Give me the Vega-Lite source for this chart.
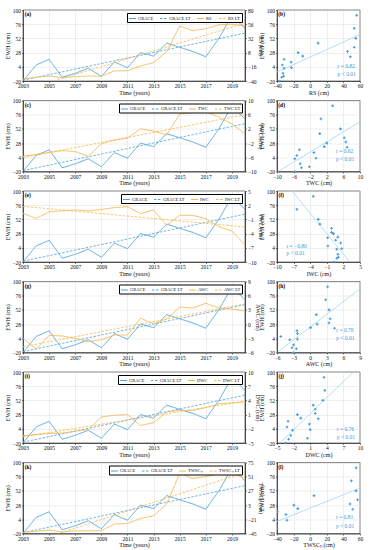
{
"$schema": "https://vega.github.io/schema/vega-lite/v6.json",
"padding": {"left": 4, "top": 7, "right": 2, "bottom": 2},
"background": "white",
"data": {"values": [
{"year":2003,"ewh":-20,"rs":-36.6,"twc":-5.7,"iwc":0.3,"awc":-3.0,"dwc":-3.5,"twsc":-43.3},
{"year":2004,"ewh":7,"rs":-33.7,"twc":-5.2,"iwc":-0.8,"awc":-5.3,"dwc":-3.2,"twsc":-41},
{"year":2005,"ewh":16.7,"rs":-31.5,"twc":-4.6,"iwc":0.6,"awc":-2.4,"dwc":-3.0,"twsc":-39.4},
{"year":2006,"ewh":-13.7,"rs":-34.4,"twc":-4.1,"iwc":0.8,"awc":-2.5,"dwc":-2.9,"twsc":-42.2},
{"year":2007,"ewh":-7,"rs":-32.7,"twc":-4.4,"iwc":1.0,"awc":-3.0,"dwc":-2.5,"twsc":-40.5},
{"year":2008,"ewh":1.5,"rs":-31.5,"twc":-5.7,"iwc":0.8,"awc":-3.7,"dwc":-2.2,"twsc":-40.5},
{"year":2009,"ewh":-12,"rs":-32,"twc":-2.2,"iwc":1.1,"awc":-3.3,"dwc":0.5,"twsc":-40},
{"year":2010,"ewh":12,"rs":-23,"twc":-1.1,"iwc":1.5,"awc":-2.3,"dwc":0.85,"twsc":-29.2},
{"year":2011,"ewh":2.5,"rs":-22.6,"twc":-0.6,"iwc":1.7,"awc":-2.3,"dwc":1.0,"twsc":-28},
{"year":2012,"ewh":28,"rs":-14.6,"twc":2.0,"iwc":0.2,"awc":1.25,"dwc":-1.3,"twsc":-19.6},
{"year":2013,"ewh":22,"rs":-9,"twc":1.4,"iwc":1.0,"awc":0.06,"dwc":-0.7,"twsc":-15},
{"year":2014,"ewh":44,"rs":9.5,"twc":0.3,"iwc":-2.25,"awc":1.1,"dwc":1.55,"twsc":4.6},
{"year":2015,"ewh":37,"rs":53,"twc":6.2,"iwc":-0.14,"awc":3.6,"dwc":1.9,"twsc":57},
{"year":2016,"ewh":30,"rs":45,"twc":6.6,"iwc":-0.14,"awc":3.4,"dwc":1.9,"twsc":48},
{"year":2017,"ewh":21,"rs":48.4,"twc":6.9,"iwc":-0.85,"awc":4.4,"dwc":2.46,"twsc":51.3},
{"year":2018,"ewh":52,"rs":55,"twc":5.3,"iwc":-2.54,"awc":3.4,"dwc":3.3,"twsc":55.3},
{"year":2019,"ewh":91,"rs":56,"twc":3.4,"iwc":-3.45,"awc":3.15,"dwc":3.5,"twsc":55.3},
{"year":2020,"ewh":69,"rs":53,"twc":0.6,"iwc":-6.4,"awc":2.8,"dwc":3.65,"twsc":49.6}
]},
"spacing": 1.5,
"resolve": {"scale": {"color": "independent", "strokeDash": "independent"}},
"vconcat": [
{"bounds": "flush", "spacing": 32, "resolve": {"scale": {"color": "independent", "strokeDash": "independent"}},
 "hconcat": [
 {"width": 222, "height": 71, "resolve": {"scale": {"y": "independent"}},
  "layer": [
   {"layer": [
     {"mark": {"type": "line", "strokeWidth": 0.9, "clip": true},
      "encoding": {
       "x": {"field": "year", "type": "quantitative", "scale": {"domain": [2003, 2020], "nice": false, "zero": false}, "axis": {"values": [2003,2005,2007,2009,2011,2013,2015,2017,2019], "tickCount": 30, "format": "d", "title": "Time (years)", "grid": true, "labelOverlap": false}},
       "y": {"field": "ewh", "type": "quantitative", "scale": {"domain": [-20, 100], "nice": false, "zero": false}, "axis": {"values": [-20,4,28,52,76,100], "tickCount": 30, "format": "d", "title": "EWH (cm)", "grid": true, "labelOverlap": false}},
       "color": {"datum": "GRACE", "scale": {"domain": ["GRACE","GRACE LT","RS","RS LT"], "range": ["#4aa3df","#4aa3df","#f5b74e","#f5b74e"]}, "legend": {"title": null}},
       "strokeDash": {"datum": "GRACE", "scale": {"domain": ["GRACE","GRACE LT","RS","RS LT"], "range": [[1,0],[2.5,1.5],[1,0],[2.5,1.5]]}, "legend": {"title": null}}
      }},
     {"transform": [{"regression": "ewh", "on": "year"}], "mark": {"type": "line", "strokeWidth": 0.8, "clip": true},
      "encoding": {"x": {"field": "year", "type": "quantitative"}, "y": {"field": "ewh", "type": "quantitative"}, "color": {"datum": "GRACE LT"}, "strokeDash": {"datum": "GRACE LT"}}},
     {"data": {"values": [{}]}, "mark": {"type": "text", "text": "(a)", "align": "left", "baseline": "top", "fontWeight": "bold", "fontSize": 5.5},
      "encoding": {"x": {"datum": 2003.13}, "y": {"datum": 96}}}
   ]},
   {"layer": [
     {"mark": {"type": "line", "strokeWidth": 0.9, "clip": true},
      "encoding": {"x": {"field": "year", "type": "quantitative"}, "y": {"field": "rs", "type": "quantitative", "scale": {"domain": [-40, 80], "nice": false, "zero": false}, "axis": {"orient": "right", "values": [-40,-16,8,32,56,80], "tickCount": 30, "format": "d", "title": "RS (cm)", "grid": false, "labelOverlap": false}}, "color": {"datum": "RS"}, "strokeDash": {"datum": "RS"}}},
     {"transform": [{"regression": "rs", "on": "year"}], "mark": {"type": "line", "strokeWidth": 0.8, "clip": true},
      "encoding": {"x": {"field": "year", "type": "quantitative"}, "y": {"field": "rs", "type": "quantitative"}, "color": {"datum": "RS LT"}, "strokeDash": {"datum": "RS LT"}}}
   ]}
  ]},
 {"width": 83, "height": 71,
  "layer": [
   {"transform": [{"regression": "ewh", "on": "rs", "extent": [-40, 60]}], "mark": {"type": "line", "color": "#a5d6f0", "strokeWidth": 0.8, "clip": true},
    "encoding": {"x": {"field": "rs", "type": "quantitative", "scale": {"domain": [-40, 60], "nice": false, "zero": false}, "axis": {"values": [-40,-20,0,20,40,60], "tickCount": 30, "format": "d", "title": "RS (cm)", "labelOverlap": false}}, "y": {"field": "ewh", "type": "quantitative", "scale": {"domain": [-20, 100], "nice": false, "zero": false}, "axis": {"values": [-20,4,28,52,76,100], "tickCount": 30, "format": "d", "title": "EWH (cm)", "labelOverlap": false}}}},
   {"mark": {"type": "point", "shape": "cross", "filled": true, "size": 7, "color": "#3d9be0", "opacity": 1},
    "encoding": {"x": {"field": "rs", "type": "quantitative"}, "y": {"field": "ewh", "type": "quantitative"}}},
   {"data": {"values": [{}]}, "mark": {"type": "text", "text": "(b)", "align": "left", "baseline": "top", "fontWeight": "bold", "fontSize": 5.5}, "encoding": {"x": {"datum": -38.5}, "y": {"datum": 96}}},
   {"data": {"values": [{}]}, "mark": {"type": "text", "text": "r = 0.82", "align": "left", "baseline": "middle", "fontSize": 5.5, "color": "#3d9be0"}, "encoding": {"x": {"datum": 33}, "y": {"datum": 5}}},
   {"data": {"values": [{}]}, "mark": {"type": "text", "text": "p < 0.01", "align": "left", "baseline": "middle", "fontSize": 5.5, "color": "#3d9be0"}, "encoding": {"x": {"datum": 33}, "y": {"datum": -8}}}
  ]}
 ]},
{"bounds": "flush", "spacing": 32, "resolve": {"scale": {"color": "independent", "strokeDash": "independent"}},
 "hconcat": [
 {"width": 222, "height": 71, "resolve": {"scale": {"y": "independent"}},
  "layer": [
   {"layer": [
     {"mark": {"type": "line", "strokeWidth": 0.9, "clip": true},
      "encoding": {
       "x": {"field": "year", "type": "quantitative", "scale": {"domain": [2003, 2020], "nice": false, "zero": false}, "axis": {"values": [2003,2005,2007,2009,2011,2013,2015,2017,2019], "tickCount": 30, "format": "d", "title": "Time (years)", "grid": true, "labelOverlap": false}},
       "y": {"field": "ewh", "type": "quantitative", "scale": {"domain": [-20, 100], "nice": false, "zero": false}, "axis": {"values": [-20,4,28,52,76,100], "tickCount": 30, "format": "d", "title": "EWH (cm)", "grid": true, "labelOverlap": false}},
       "color": {"datum": "GRACE", "scale": {"domain": ["GRACE","GRACE LT","TWC","TWC LT"], "range": ["#4aa3df","#4aa3df","#f5b74e","#f5b74e"]}, "legend": {"title": null}},
       "strokeDash": {"datum": "GRACE", "scale": {"domain": ["GRACE","GRACE LT","TWC","TWC LT"], "range": [[1,0],[2.5,1.5],[1,0],[2.5,1.5]]}, "legend": {"title": null}}
      }},
     {"transform": [{"regression": "ewh", "on": "year"}], "mark": {"type": "line", "strokeWidth": 0.8, "clip": true},
      "encoding": {"x": {"field": "year", "type": "quantitative"}, "y": {"field": "ewh", "type": "quantitative"}, "color": {"datum": "GRACE LT"}, "strokeDash": {"datum": "GRACE LT"}}},
     {"data": {"values": [{}]}, "mark": {"type": "text", "text": "(c)", "align": "left", "baseline": "top", "fontWeight": "bold", "fontSize": 5.5},
      "encoding": {"x": {"datum": 2003.13}, "y": {"datum": 96}}}
   ]},
   {"layer": [
     {"mark": {"type": "line", "strokeWidth": 0.9, "clip": true},
      "encoding": {"x": {"field": "year", "type": "quantitative"}, "y": {"field": "twc", "type": "quantitative", "scale": {"domain": [-10, 10], "nice": false, "zero": false}, "axis": {"orient": "right", "values": [-10,-6,-2,2,6,10], "tickCount": 30, "format": "d", "title": "TWC (cm)", "grid": false, "labelOverlap": false}}, "color": {"datum": "TWC"}, "strokeDash": {"datum": "TWC"}}},
     {"transform": [{"regression": "twc", "on": "year"}], "mark": {"type": "line", "strokeWidth": 0.8, "clip": true},
      "encoding": {"x": {"field": "year", "type": "quantitative"}, "y": {"field": "twc", "type": "quantitative"}, "color": {"datum": "TWC LT"}, "strokeDash": {"datum": "TWC LT"}}}
   ]}
  ]},
 {"width": 83, "height": 71,
  "layer": [
   {"transform": [{"regression": "ewh", "on": "twc", "extent": [-10, 10]}], "mark": {"type": "line", "color": "#a5d6f0", "strokeWidth": 0.8, "clip": true},
    "encoding": {"x": {"field": "twc", "type": "quantitative", "scale": {"domain": [-10, 10], "nice": false, "zero": false}, "axis": {"values": [-10,-6,-2,2,6,10], "tickCount": 30, "format": "d", "title": "TWC (cm)", "labelOverlap": false}}, "y": {"field": "ewh", "type": "quantitative", "scale": {"domain": [-20, 100], "nice": false, "zero": false}, "axis": {"values": [-20,4,28,52,76,100], "tickCount": 30, "format": "d", "title": "EWH (cm)", "labelOverlap": false}}}},
   {"mark": {"type": "point", "shape": "cross", "filled": true, "size": 7, "color": "#3d9be0", "opacity": 1},
    "encoding": {"x": {"field": "twc", "type": "quantitative"}, "y": {"field": "ewh", "type": "quantitative"}}},
   {"data": {"values": [{}]}, "mark": {"type": "text", "text": "(d)", "align": "left", "baseline": "top", "fontWeight": "bold", "fontSize": 5.5}, "encoding": {"x": {"datum": -9.7}, "y": {"datum": 96}}},
   {"data": {"values": [{}]}, "mark": {"type": "text", "text": "r = 0.62", "align": "left", "baseline": "middle", "fontSize": 5.5, "color": "#3d9be0"}, "encoding": {"x": {"datum": 4.2}, "y": {"datum": 15}}},
   {"data": {"values": [{}]}, "mark": {"type": "text", "text": "p < 0.01", "align": "left", "baseline": "middle", "fontSize": 5.5, "color": "#3d9be0"}, "encoding": {"x": {"datum": 4.2}, "y": {"datum": 1}}}
  ]}
 ]},
{"bounds": "flush", "spacing": 32, "resolve": {"scale": {"color": "independent", "strokeDash": "independent"}},
 "hconcat": [
 {"width": 222, "height": 71, "resolve": {"scale": {"y": "independent"}},
  "layer": [
   {"layer": [
     {"mark": {"type": "line", "strokeWidth": 0.9, "clip": true},
      "encoding": {
       "x": {"field": "year", "type": "quantitative", "scale": {"domain": [2003, 2020], "nice": false, "zero": false}, "axis": {"values": [2003,2005,2007,2009,2011,2013,2015,2017,2019], "tickCount": 30, "format": "d", "title": "Time (years)", "grid": true, "labelOverlap": false}},
       "y": {"field": "ewh", "type": "quantitative", "scale": {"domain": [-20, 100], "nice": false, "zero": false}, "axis": {"values": [-20,4,28,52,76,100], "tickCount": 30, "format": "d", "title": "EWH (cm)", "grid": true, "labelOverlap": false}},
       "color": {"datum": "GRACE", "scale": {"domain": ["GRACE","GRACE LT","IWC","IWC LT"], "range": ["#4aa3df","#4aa3df","#f5b74e","#f5b74e"]}, "legend": {"title": null}},
       "strokeDash": {"datum": "GRACE", "scale": {"domain": ["GRACE","GRACE LT","IWC","IWC LT"], "range": [[1,0],[2.5,1.5],[1,0],[2.5,1.5]]}, "legend": {"title": null}}
      }},
     {"transform": [{"regression": "ewh", "on": "year"}], "mark": {"type": "line", "strokeWidth": 0.8, "clip": true},
      "encoding": {"x": {"field": "year", "type": "quantitative"}, "y": {"field": "ewh", "type": "quantitative"}, "color": {"datum": "GRACE LT"}, "strokeDash": {"datum": "GRACE LT"}}},
     {"data": {"values": [{}]}, "mark": {"type": "text", "text": "(e)", "align": "left", "baseline": "top", "fontWeight": "bold", "fontSize": 5.5},
      "encoding": {"x": {"datum": 2003.13}, "y": {"datum": 96}}}
   ]},
   {"layer": [
     {"mark": {"type": "line", "strokeWidth": 0.9, "clip": true},
      "encoding": {"x": {"field": "year", "type": "quantitative"}, "y": {"field": "iwc", "type": "quantitative", "scale": {"domain": [-10, 5], "nice": false, "zero": false}, "axis": {"orient": "right", "values": [-10,-7,-4,-1,2,5], "tickCount": 30, "format": "d", "title": "IWC (cm)", "grid": false, "labelOverlap": false}}, "color": {"datum": "IWC"}, "strokeDash": {"datum": "IWC"}}},
     {"transform": [{"regression": "iwc", "on": "year"}], "mark": {"type": "line", "strokeWidth": 0.8, "clip": true},
      "encoding": {"x": {"field": "year", "type": "quantitative"}, "y": {"field": "iwc", "type": "quantitative"}, "color": {"datum": "IWC LT"}, "strokeDash": {"datum": "IWC LT"}}}
   ]}
  ]},
 {"width": 83, "height": 71,
  "layer": [
   {"transform": [{"regression": "ewh", "on": "iwc", "extent": [-10, 5]}], "mark": {"type": "line", "color": "#a5d6f0", "strokeWidth": 0.8, "clip": true},
    "encoding": {"x": {"field": "iwc", "type": "quantitative", "scale": {"domain": [-10, 5], "nice": false, "zero": false}, "axis": {"values": [-10,-7,-4,-1,2,5], "tickCount": 30, "format": "d", "title": "IWC (cm)", "labelOverlap": false}}, "y": {"field": "ewh", "type": "quantitative", "scale": {"domain": [-20, 100], "nice": false, "zero": false}, "axis": {"values": [-20,4,28,52,76,100], "tickCount": 30, "format": "d", "title": "EWH (cm)", "labelOverlap": false}}}},
   {"mark": {"type": "point", "shape": "cross", "filled": true, "size": 7, "color": "#3d9be0", "opacity": 1},
    "encoding": {"x": {"field": "iwc", "type": "quantitative"}, "y": {"field": "ewh", "type": "quantitative"}}},
   {"data": {"values": [{}]}, "mark": {"type": "text", "text": "(f)", "align": "left", "baseline": "top", "fontWeight": "bold", "fontSize": 5.5}, "encoding": {"x": {"datum": -9.75}, "y": {"datum": 96}}},
   {"data": {"values": [{}]}, "mark": {"type": "text", "text": "r = −0.80", "align": "left", "baseline": "middle", "fontSize": 5.5, "color": "#3d9be0"}, "encoding": {"x": {"datum": -8.3}, "y": {"datum": 7}}},
   {"data": {"values": [{}]}, "mark": {"type": "text", "text": "p < 0.01", "align": "left", "baseline": "middle", "fontSize": 5.5, "color": "#3d9be0"}, "encoding": {"x": {"datum": -8.3}, "y": {"datum": -5}}}
  ]}
 ]},
{"bounds": "flush", "spacing": 32, "resolve": {"scale": {"color": "independent", "strokeDash": "independent"}},
 "hconcat": [
 {"width": 222, "height": 71, "resolve": {"scale": {"y": "independent"}},
  "layer": [
   {"layer": [
     {"mark": {"type": "line", "strokeWidth": 0.9, "clip": true},
      "encoding": {
       "x": {"field": "year", "type": "quantitative", "scale": {"domain": [2003, 2020], "nice": false, "zero": false}, "axis": {"values": [2003,2005,2007,2009,2011,2013,2015,2017,2019], "tickCount": 30, "format": "d", "title": "Time (years)", "grid": true, "labelOverlap": false}},
       "y": {"field": "ewh", "type": "quantitative", "scale": {"domain": [-20, 100], "nice": false, "zero": false}, "axis": {"values": [-20,4,28,52,76,100], "tickCount": 30, "format": "d", "title": "EWH (cm)", "grid": true, "labelOverlap": false}},
       "color": {"datum": "GRACE", "scale": {"domain": ["GRACE","GRACE LT","AWC","AWC LT"], "range": ["#4aa3df","#4aa3df","#f5b74e","#f5b74e"]}, "legend": {"title": null}},
       "strokeDash": {"datum": "GRACE", "scale": {"domain": ["GRACE","GRACE LT","AWC","AWC LT"], "range": [[1,0],[2.5,1.5],[1,0],[2.5,1.5]]}, "legend": {"title": null}}
      }},
     {"transform": [{"regression": "ewh", "on": "year"}], "mark": {"type": "line", "strokeWidth": 0.8, "clip": true},
      "encoding": {"x": {"field": "year", "type": "quantitative"}, "y": {"field": "ewh", "type": "quantitative"}, "color": {"datum": "GRACE LT"}, "strokeDash": {"datum": "GRACE LT"}}},
     {"data": {"values": [{}]}, "mark": {"type": "text", "text": "(g)", "align": "left", "baseline": "top", "fontWeight": "bold", "fontSize": 5.5},
      "encoding": {"x": {"datum": 2003.13}, "y": {"datum": 96}}}
   ]},
   {"layer": [
     {"mark": {"type": "line", "strokeWidth": 0.9, "clip": true},
      "encoding": {"x": {"field": "year", "type": "quantitative"}, "y": {"field": "awc", "type": "quantitative", "scale": {"domain": [-6, 9], "nice": false, "zero": false}, "axis": {"orient": "right", "values": [-6,-3,0,3,6,9], "tickCount": 30, "format": "d", "title": "AWC (cm)", "grid": false, "labelOverlap": false}}, "color": {"datum": "AWC"}, "strokeDash": {"datum": "AWC"}}},
     {"transform": [{"regression": "awc", "on": "year"}], "mark": {"type": "line", "strokeWidth": 0.8, "clip": true},
      "encoding": {"x": {"field": "year", "type": "quantitative"}, "y": {"field": "awc", "type": "quantitative"}, "color": {"datum": "AWC LT"}, "strokeDash": {"datum": "AWC LT"}}}
   ]}
  ]},
 {"width": 83, "height": 71,
  "layer": [
   {"transform": [{"regression": "ewh", "on": "awc", "extent": [-6, 9]}], "mark": {"type": "line", "color": "#a5d6f0", "strokeWidth": 0.8, "clip": true},
    "encoding": {"x": {"field": "awc", "type": "quantitative", "scale": {"domain": [-6, 9], "nice": false, "zero": false}, "axis": {"values": [-6,-3,0,3,6,9], "tickCount": 30, "format": "d", "title": "AWC (cm)", "labelOverlap": false}}, "y": {"field": "ewh", "type": "quantitative", "scale": {"domain": [-20, 100], "nice": false, "zero": false}, "axis": {"values": [-20,4,28,52,76,100], "tickCount": 30, "format": "d", "title": "EWH (cm)", "labelOverlap": false}}}},
   {"mark": {"type": "point", "shape": "cross", "filled": true, "size": 7, "color": "#3d9be0", "opacity": 1},
    "encoding": {"x": {"field": "awc", "type": "quantitative"}, "y": {"field": "ewh", "type": "quantitative"}}},
   {"data": {"values": [{}]}, "mark": {"type": "text", "text": "(h)", "align": "left", "baseline": "top", "fontWeight": "bold", "fontSize": 5.5}, "encoding": {"x": {"datum": -5.75}, "y": {"datum": 96}}},
   {"data": {"values": [{}]}, "mark": {"type": "text", "text": "r = 0.76", "align": "left", "baseline": "middle", "fontSize": 5.5, "color": "#3d9be0"}, "encoding": {"x": {"datum": 4.7}, "y": {"datum": 18}}},
   {"data": {"values": [{}]}, "mark": {"type": "text", "text": "p < 0.01", "align": "left", "baseline": "middle", "fontSize": 5.5, "color": "#3d9be0"}, "encoding": {"x": {"datum": 4.7}, "y": {"datum": 4}}}
  ]}
 ]},
{"bounds": "flush", "spacing": 32, "resolve": {"scale": {"color": "independent", "strokeDash": "independent"}},
 "hconcat": [
 {"width": 222, "height": 71, "resolve": {"scale": {"y": "independent"}},
  "layer": [
   {"layer": [
     {"mark": {"type": "line", "strokeWidth": 0.9, "clip": true},
      "encoding": {
       "x": {"field": "year", "type": "quantitative", "scale": {"domain": [2003, 2020], "nice": false, "zero": false}, "axis": {"values": [2003,2005,2007,2009,2011,2013,2015,2017,2019], "tickCount": 30, "format": "d", "title": "Time (years)", "grid": true, "labelOverlap": false}},
       "y": {"field": "ewh", "type": "quantitative", "scale": {"domain": [-20, 100], "nice": false, "zero": false}, "axis": {"values": [-20,4,28,52,76,100], "tickCount": 30, "format": "d", "title": "EWH (cm)", "grid": true, "labelOverlap": false}},
       "color": {"datum": "GRACE", "scale": {"domain": ["GRACE","GRACE LT","DWC","DWC LT"], "range": ["#4aa3df","#4aa3df","#f5b74e","#f5b74e"]}, "legend": {"title": null}},
       "strokeDash": {"datum": "GRACE", "scale": {"domain": ["GRACE","GRACE LT","DWC","DWC LT"], "range": [[1,0],[2.5,1.5],[1,0],[2.5,1.5]]}, "legend": {"title": null}}
      }},
     {"transform": [{"regression": "ewh", "on": "year"}], "mark": {"type": "line", "strokeWidth": 0.8, "clip": true},
      "encoding": {"x": {"field": "year", "type": "quantitative"}, "y": {"field": "ewh", "type": "quantitative"}, "color": {"datum": "GRACE LT"}, "strokeDash": {"datum": "GRACE LT"}}},
     {"data": {"values": [{}]}, "mark": {"type": "text", "text": "(i)", "align": "left", "baseline": "top", "fontWeight": "bold", "fontSize": 5.5},
      "encoding": {"x": {"datum": 2003.13}, "y": {"datum": 96}}}
   ]},
   {"layer": [
     {"mark": {"type": "line", "strokeWidth": 0.9, "clip": true},
      "encoding": {"x": {"field": "year", "type": "quantitative"}, "y": {"field": "dwc", "type": "quantitative", "scale": {"domain": [-5, 10], "nice": false, "zero": false}, "axis": {"orient": "right", "values": [-5,-2,1,4,7,10], "tickCount": 30, "format": "d", "title": "DWC (cm)", "grid": false, "labelOverlap": false}}, "color": {"datum": "DWC"}, "strokeDash": {"datum": "DWC"}}},
     {"transform": [{"regression": "dwc", "on": "year"}], "mark": {"type": "line", "strokeWidth": 0.8, "clip": true},
      "encoding": {"x": {"field": "year", "type": "quantitative"}, "y": {"field": "dwc", "type": "quantitative"}, "color": {"datum": "DWC LT"}, "strokeDash": {"datum": "DWC LT"}}}
   ]}
  ]},
 {"width": 83, "height": 71,
  "layer": [
   {"transform": [{"regression": "ewh", "on": "dwc", "extent": [-5, 10]}], "mark": {"type": "line", "color": "#a5d6f0", "strokeWidth": 0.8, "clip": true},
    "encoding": {"x": {"field": "dwc", "type": "quantitative", "scale": {"domain": [-5, 10], "nice": false, "zero": false}, "axis": {"values": [-5,-2,1,4,7,10], "tickCount": 30, "format": "d", "title": "DWC (cm)", "labelOverlap": false}}, "y": {"field": "ewh", "type": "quantitative", "scale": {"domain": [-20, 100], "nice": false, "zero": false}, "axis": {"values": [-20,4,28,52,76,100], "tickCount": 30, "format": "d", "title": "EWH (cm)", "labelOverlap": false}}}},
   {"mark": {"type": "point", "shape": "cross", "filled": true, "size": 7, "color": "#3d9be0", "opacity": 1},
    "encoding": {"x": {"field": "dwc", "type": "quantitative"}, "y": {"field": "ewh", "type": "quantitative"}}},
   {"data": {"values": [{}]}, "mark": {"type": "text", "text": "(j)", "align": "left", "baseline": "top", "fontWeight": "bold", "fontSize": 5.5}, "encoding": {"x": {"datum": -4.75}, "y": {"datum": 96}}},
   {"data": {"values": [{}]}, "mark": {"type": "text", "text": "r = 0.76", "align": "left", "baseline": "middle", "fontSize": 5.5, "color": "#3d9be0"}, "encoding": {"x": {"datum": 5.8}, "y": {"datum": 4}}},
   {"data": {"values": [{}]}, "mark": {"type": "text", "text": "p < 0.01", "align": "left", "baseline": "middle", "fontSize": 5.5, "color": "#3d9be0"}, "encoding": {"x": {"datum": 5.8}, "y": {"datum": -10}}}
  ]}
 ]},
{"bounds": "flush", "spacing": 32, "resolve": {"scale": {"color": "independent", "strokeDash": "independent"}},
 "hconcat": [
 {"width": 222, "height": 71, "resolve": {"scale": {"y": "independent"}},
  "layer": [
   {"layer": [
     {"mark": {"type": "line", "strokeWidth": 0.9, "clip": true},
      "encoding": {
       "x": {"field": "year", "type": "quantitative", "scale": {"domain": [2003, 2020], "nice": false, "zero": false}, "axis": {"values": [2003,2005,2007,2009,2011,2013,2015,2017,2019], "tickCount": 30, "format": "d", "title": "Time (years)", "grid": true, "labelOverlap": false}},
       "y": {"field": "ewh", "type": "quantitative", "scale": {"domain": [-20, 100], "nice": false, "zero": false}, "axis": {"values": [-20,4,28,52,76,100], "tickCount": 30, "format": "d", "title": "EWH (cm)", "grid": true, "labelOverlap": false}},
       "color": {"datum": "GRACE", "scale": {"domain": ["GRACE","GRACE LT","TWSCₕ","TWSCₕ LT"], "range": ["#4aa3df","#4aa3df","#f5b74e","#f5b74e"]}, "legend": {"title": null}},
       "strokeDash": {"datum": "GRACE", "scale": {"domain": ["GRACE","GRACE LT","TWSCₕ","TWSCₕ LT"], "range": [[1,0],[2.5,1.5],[1,0],[2.5,1.5]]}, "legend": {"title": null}}
      }},
     {"transform": [{"regression": "ewh", "on": "year"}], "mark": {"type": "line", "strokeWidth": 0.8, "clip": true},
      "encoding": {"x": {"field": "year", "type": "quantitative"}, "y": {"field": "ewh", "type": "quantitative"}, "color": {"datum": "GRACE LT"}, "strokeDash": {"datum": "GRACE LT"}}},
     {"data": {"values": [{}]}, "mark": {"type": "text", "text": "(k)", "align": "left", "baseline": "top", "fontWeight": "bold", "fontSize": 5.5},
      "encoding": {"x": {"datum": 2003.13}, "y": {"datum": 96}}}
   ]},
   {"layer": [
     {"mark": {"type": "line", "strokeWidth": 0.9, "clip": true},
      "encoding": {"x": {"field": "year", "type": "quantitative"}, "y": {"field": "twsc", "type": "quantitative", "scale": {"domain": [-45, 75], "nice": false, "zero": false}, "axis": {"orient": "right", "values": [-45,-21,3,27,51,75], "tickCount": 30, "format": "d", "title": "TWSCₕ (cm)", "grid": false, "labelOverlap": false}}, "color": {"datum": "TWSCₕ"}, "strokeDash": {"datum": "TWSCₕ"}}},
     {"transform": [{"regression": "twsc", "on": "year"}], "mark": {"type": "line", "strokeWidth": 0.8, "clip": true},
      "encoding": {"x": {"field": "year", "type": "quantitative"}, "y": {"field": "twsc", "type": "quantitative"}, "color": {"datum": "TWSCₕ LT"}, "strokeDash": {"datum": "TWSCₕ LT"}}}
   ]}
  ]},
 {"width": 83, "height": 71,
  "layer": [
   {"transform": [{"regression": "ewh", "on": "twsc", "extent": [-40, 60]}], "mark": {"type": "line", "color": "#a5d6f0", "strokeWidth": 0.8, "clip": true},
    "encoding": {"x": {"field": "twsc", "type": "quantitative", "scale": {"domain": [-40, 60], "nice": false, "zero": false}, "axis": {"values": [-40,-20,0,20,40,60], "tickCount": 30, "format": "d", "title": "TWSCₕ (cm)", "labelOverlap": false}}, "y": {"field": "ewh", "type": "quantitative", "scale": {"domain": [-20, 100], "nice": false, "zero": false}, "axis": {"values": [-20,4,28,52,76,100], "tickCount": 30, "format": "d", "title": "EWH (cm)", "labelOverlap": false}}}},
   {"mark": {"type": "point", "shape": "cross", "filled": true, "size": 7, "color": "#3d9be0", "opacity": 1, "clip": true},
    "encoding": {"x": {"field": "twsc", "type": "quantitative"}, "y": {"field": "ewh", "type": "quantitative"}}},
   {"data": {"values": [{}]}, "mark": {"type": "text", "text": "(l)", "align": "left", "baseline": "top", "fontWeight": "bold", "fontSize": 5.5}, "encoding": {"x": {"datum": -38.5}, "y": {"datum": 96}}},
   {"data": {"values": [{}]}, "mark": {"type": "text", "text": "r = 0.81", "align": "left", "baseline": "middle", "fontSize": 5.5, "color": "#3d9be0"}, "encoding": {"x": {"datum": 31}, "y": {"datum": 7.6}}},
   {"data": {"values": [{}]}, "mark": {"type": "text", "text": "p < 0.01", "align": "left", "baseline": "middle", "fontSize": 5.5, "color": "#3d9be0"}, "encoding": {"x": {"datum": 31}, "y": {"datum": -8}}}
  ]}
 ]}
],
"config": {
 "font": "Liberation Serif",
 "view": {"stroke": "black", "strokeWidth": 0.6},
 "axis": {"labelFont": "Liberation Serif", "titleFont": "Liberation Serif", "labelFontSize": 5.5, "titleFontSize": 6, "titleFontWeight": "normal", "labelColor": "#111111", "titleColor": "#111111", "domainColor": "black", "domainWidth": 0.6, "tickColor": "black", "tickSize": 1.5, "tickWidth": 0.5, "labelPadding": 1, "titlePadding": 1, "gridColor": "#dddddd", "gridWidth": 0.5, "labelFlush": false, "labelOverlap": false},
 "axisX": {"titlePadding": 0},
 "legend": {"orient": "top-right", "direction": "horizontal", "symbolType": "stroke", "symbolSize": 49, "symbolStrokeWidth": 1, "labelFont": "Liberation Serif", "labelFontSize": 4.5, "labelColor": "#111111", "strokeColor": "black", "fillColor": "white", "padding": 1.5, "offset": 3, "columnPadding": 4, "labelOffset": 1.5, "symbolOffset": 0, "rowPadding": 0, "labelLimit": 100},
 "text": {"font": "Liberation Serif"}
}
}
